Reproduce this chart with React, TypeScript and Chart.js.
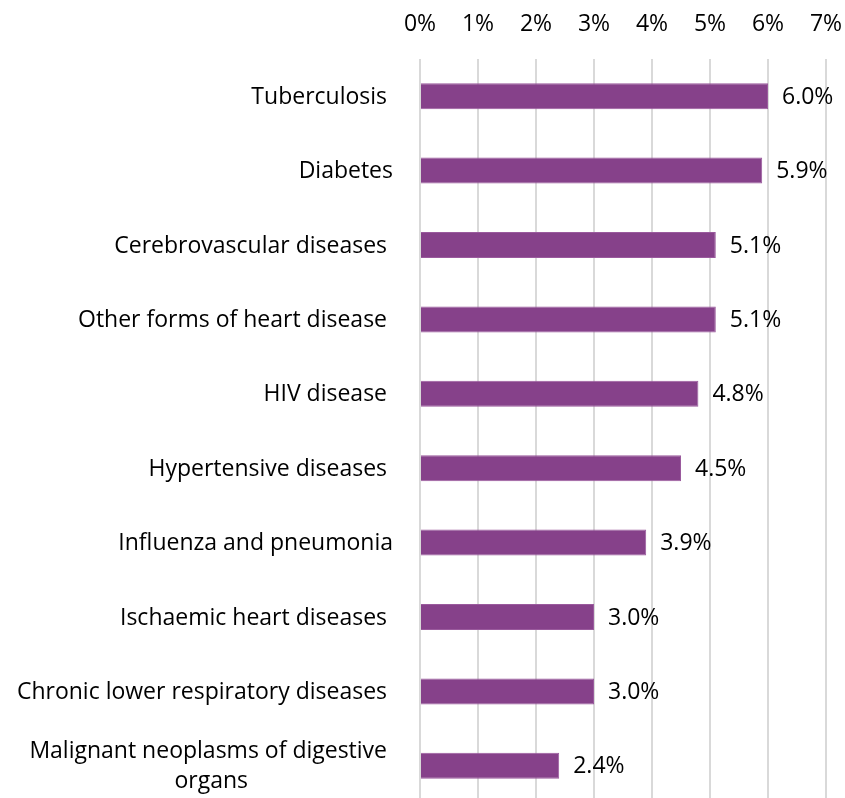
import React, { useEffect, useRef } from "react";
import { Chart, registerables } from "chart.js";

Chart.register(...registerables);

const categories: string[][] = [
  ["Tuberculosis "],
  ["Diabetes"],
  ["Cerebrovascular diseases "],
  ["Other forms of heart disease "],
  ["HIV disease "],
  ["Hypertensive diseases "],
  ["Influenza and pneumonia"],
  ["Ischaemic heart diseases "],
  ["Chronic lower respiratory diseases "],
  ["Malignant neoplasms of digestive ", "organs"],
];

const values: number[] = [6.0, 5.9, 5.1, 5.1, 4.8, 4.5, 3.9, 3.0, 3.0, 2.4];

const xTicks: number[] = [0, 1, 2, 3, 4, 5, 6, 7];

const FONT = '"Open Sans", Lato, sans-serif';
const FONT_SIZE = 23;
const BAR_COLOR = "#86418A";

const yLabelPlugin = {
  id: "yLabelPlugin",
  afterDraw(chart: any) {
    const ctx = chart.ctx;
    const yScale = chart.scales.y;
    ctx.save();
    ctx.font = `${FONT_SIZE}px ${FONT}`;
    ctx.fillStyle = "#000";
    ctx.textBaseline = "middle";
    const right = 393;
    const lh = 30;
    categories.forEach((lines, i) => {
      const cy = yScale.getPixelForValue(i) + 1;
      const widths = lines.map((l) => ctx.measureText(l).width);
      const maxW = Math.max(...widths);
      const start = cy - ((lines.length - 1) * lh) / 2;
      if (lines.length === 1) {
        ctx.textAlign = "right";
        ctx.fillText(lines[0], right, cy);
      } else {
        ctx.textAlign = "center";
        const center = right - maxW / 2;
        lines.forEach((l, j) => ctx.fillText(l, center, start + j * lh));
      }
    });
    ctx.restore();
  },
};

const dataLabelPlugin = {
  id: "dataLabelPlugin",
  afterDatasetsDraw(chart: any) {
    const ctx = chart.ctx;
    const meta = chart.getDatasetMeta(0);
    ctx.save();
    ctx.font = `${FONT_SIZE}px ${FONT}`;
    ctx.fillStyle = "#000";
    ctx.textBaseline = "middle";
    ctx.textAlign = "left";
    meta.data.forEach((bar: any, i: number) => {
      ctx.fillText(values[i].toFixed(1) + "%", bar.x + 14, bar.y + 1);
    });
    ctx.restore();
  },
};

export default function App() {
  const ref = useRef<HTMLCanvasElement | null>(null);

  useEffect(() => {
    if (!ref.current) return;
    const chart = new Chart(ref.current, {
      type: "bar",
      data: {
        labels: categories.map((l) => l.join(" ").trim()),
        datasets: [
          {
            data: values,
            backgroundColor: BAR_COLOR,
            borderColor: "#9A5A9D",
            borderWidth: 1,
            barPercentage: 0.35,
            categoryPercentage: 1,
          },
        ],
      },
      options: {
        indexAxis: "y",
        responsive: false,
        animation: false,
        devicePixelRatio: 1,
        layout: { padding: { top: 0, right: 19, bottom: 3, left: 0 } },
        plugins: {
          legend: { display: false },
          tooltip: { enabled: false },
        },
        scales: {
          x: {
            position: "top",
            min: 0,
            max: 7,
            afterFit: (scale: any) => {
              scale.height = 59;
              scale.paddingLeft = 0;
              scale.paddingRight = 0;
            },
            afterBuildTicks: (scale: any) => {
              scale.ticks = xTicks.map((v) => ({ value: v }));
            },
            ticks: {
              callback: (v: any) => `${v}%`,
              font: { family: FONT, size: FONT_SIZE },
              color: "#000",
              padding: 21,
              maxRotation: 0,
            },
            grid: {
              color: "#D9D9D9",
              lineWidth: 2,
              drawTicks: false,
            },
            border: { display: false },
          },
          y: {
            afterFit: (scale: any) => {
              scale.width = 420;
              scale.paddingTop = 0;
              scale.paddingBottom = 0;
            },
            ticks: { display: false },
            grid: { display: false, drawTicks: false },
            border: { display: false },
          },
        },
      },
      plugins: [yLabelPlugin, dataLabelPlugin],
    } as any);
    return () => chart.destroy();
  }, []);

  return (
    <div style={{ position: "fixed", top: 0, left: 0, width: 845, height: 806, background: "#fff" }}>
      <canvas ref={ref} width={845} height={806} style={{ display: "block" }} />
    </div>
  );
}
